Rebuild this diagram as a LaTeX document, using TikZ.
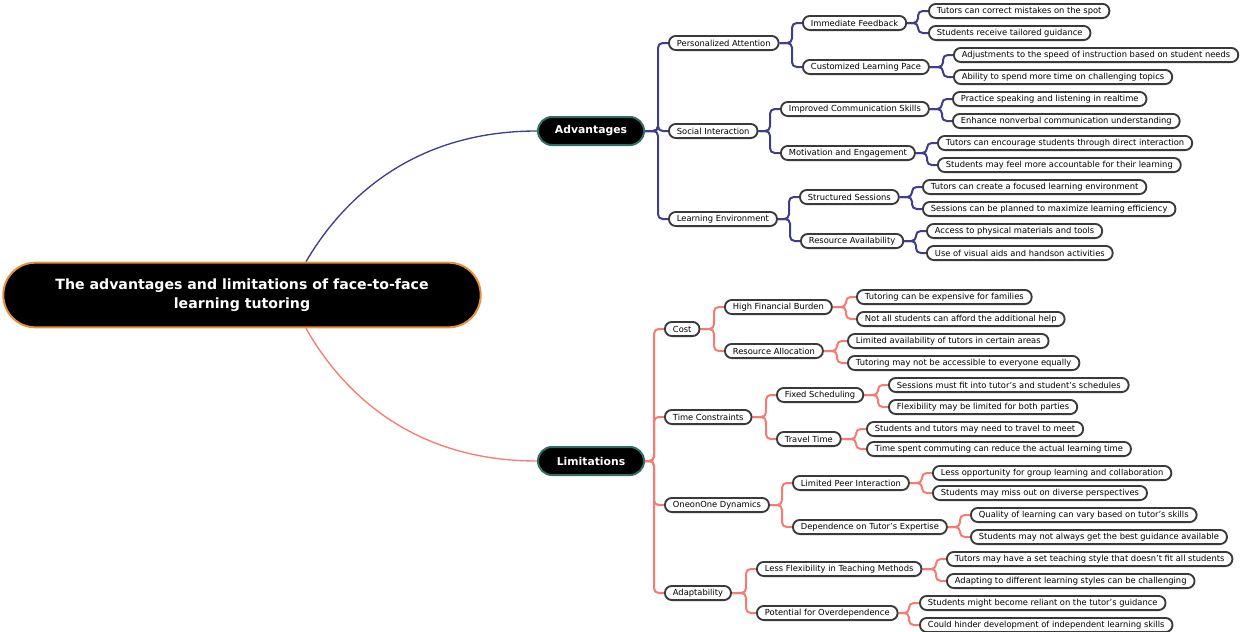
\documentclass[tikz,border=0pt]{standalone}
\usepackage{fontspec}
\setmainfont{DejaVu Sans}
\usetikzlibrary{positioning,backgrounds,calc}
\definecolor{advblue}{RGB}{62,62,140}
\definecolor{limred}{RGB}{247,122,115}
\definecolor{rootorange}{RGB}{232,145,58}
\definecolor{catteal}{RGB}{46,110,98}
\definecolor{leafgray}{RGB}{58,58,58}
\tikzset{
  leaf/.style={draw=leafgray,fill=white,line width=1.4pt,rounded corners=5.2pt,anchor=west,
    minimum height=10.6pt,inner xsep=6pt,inner ysep=0pt,font=\fontsize{6.25}{7}\selectfont},
  catnode/.style={draw=catteal,fill=black,text=white,line width=1.5pt,rounded corners=10.5pt,
    anchor=west,minimum width=79.5pt,minimum height=21pt,font=\bfseries\fontsize{8.1}{10}\selectfont},
  rootnode/.style={draw=rootorange,fill=black,text=white,line width=1.5pt,rounded corners=24pt,
    minimum width=358pt,minimum height=48.5pt,align=center,font=\bfseries\fontsize{10.6}{13.9}\selectfont},
  advline/.style={draw=advblue,line width=1.5pt,rounded corners=3.5pt},
  limline/.style={draw=limred,line width=1.5pt,rounded corners=3.5pt}
}
\begin{document}
\begin{tikzpicture}[x=0.75pt,y=-0.75pt]
  \useasboundingbox (0,0) rectangle (1240,632);
  \node[rootnode] (root) at (242,295) {The advantages and limitations of face-to-face\\learning tutoring};
  \node[catnode] (adv) at (537,131) {Advantages};
  \node[catnode] (lim) at (537,461) {Limitations};

  \node[leaf] (pers) at (668,43) {Personalized Attention};
  \node[leaf] (social) at (668,131) {Social Interaction};
  \node[leaf] (learnenv) at (668,219) {Learning Environment};
  \node[leaf] (immfb) at (802,23) {Immediate Feedback};
  \node[leaf] (custpace) at (802,67) {Customized Learning Pace};
  \node[leaf] (improvcomm) at (780,109) {Improved Communication Skills};
  \node[leaf] (motiv) at (780,153) {Motivation and Engagement};
  \node[leaf] (structs) at (799,197) {Structured Sessions};
  \node[leaf] (resavail) at (800,241) {Resource Availability};
  \node[leaf] (fb1) at (928,11) {Tutors can correct mistakes on the spot};
  \node[leaf] (fb2) at (928,33) {Students receive tailored guidance};
  \node[leaf] (pace1) at (953,55) {Adjustments to the speed of instruction based on student needs};
  \node[leaf] (pace2) at (953,77) {Ability to spend more time on challenging topics};
  \node[leaf] (comm1) at (952,99) {Practice speaking and listening in realtime};
  \node[leaf] (comm2) at (952,121) {Enhance nonverbal communication understanding};
  \node[leaf] (mot1) at (937,143) {Tutors can encourage students through direct interaction};
  \node[leaf] (mot2) at (937,165) {Students may feel more accountable for their learning};
  \node[leaf] (ses1) at (922,187) {Tutors can create a focused learning environment};
  \node[leaf] (ses2) at (922,209) {Sessions can be planned to maximize learning efficiency};
  \node[leaf] (res1) at (926,231) {Access to physical materials and tools};
  \node[leaf] (res2) at (926,253) {Use of visual aids and handson activities};

  \node[leaf] (cost) at (664,329) {Cost};
  \node[leaf] (timec) at (664,417) {Time Constraints};
  \node[leaf] (oneone) at (664,505) {OneonOne Dynamics};
  \node[leaf] (adapt) at (664,593) {Adaptability};
  \node[leaf] (burden) at (724,307) {High Financial Burden};
  \node[leaf] (alloc) at (724,351) {Resource Allocation};
  \node[leaf] (sched) at (776,395) {Fixed Scheduling};
  \node[leaf] (travel) at (776,439) {Travel Time};
  \node[leaf] (peer) at (792,483) {Limited Peer Interaction};
  \node[leaf] (expert) at (792,527) {Dependence on Tutor's Expertise};
  \node[leaf] (flexi) at (756,569) {Less Flexibility in Teaching Methods};
  \node[leaf] (overdep) at (756,613) {Potential for Overdependence};
  \node[leaf] (bur1) at (856,297) {Tutoring can be expensive for families};
  \node[leaf] (bur2) at (856,319) {Not all students can afford the additional help};
  \node[leaf] (all1) at (847,341) {Limited availability of tutors in certain areas};
  \node[leaf] (all2) at (847,363) {Tutoring may not be accessible to everyone equally};
  \node[leaf] (sch1) at (888,385) {Sessions must fit into tutor's and student's schedules};
  \node[leaf] (sch2) at (888,407) {Flexibility may be limited for both parties};
  \node[leaf] (trv1) at (866,429) {Students and tutors may need to travel to meet};
  \node[leaf] (trv2) at (866,449) {Time spent commuting can reduce the actual learning time};
  \node[leaf] (peer1) at (932,473) {Less opportunity for group learning and collaboration};
  \node[leaf] (peer2) at (932,493) {Students may miss out on diverse perspectives};
  \node[leaf] (exp1) at (970,515) {Quality of learning can vary based on tutor's skills};
  \node[leaf] (exp2) at (970,537) {Students may not always get the best guidance available};
  \node[leaf] (flx1) at (946,559) {Tutors may have a set teaching style that doesn't fit all students};
  \node[leaf] (flx2) at (946,581) {Adapting to different learning styles can be challenging};
  \node[leaf] (ovd1) at (919,603) {Students might become reliant on the tutor's guidance};
  \node[leaf] (ovd2) at (919,625) {Could hinder development of independent learning skills};

  \begin{scope}[on background layer]
    \draw[advline,line width=1pt] ($(root.north)+(64,0)$) .. controls (341,202) and (410,131) .. (adv.west);
    \draw[limline,line width=1pt] ($(root.south)+(64,0)$) .. controls (341,390) and (410,461) .. (lim.west);
    \foreach \p/\c in {adv/pers,adv/social,adv/learnenv,pers/immfb,pers/custpace,
        social/improvcomm,social/motiv,learnenv/structs,learnenv/resavail,
        immfb/fb1,immfb/fb2,custpace/pace1,custpace/pace2,improvcomm/comm1,improvcomm/comm2,
        motiv/mot1,motiv/mot2,structs/ses1,structs/ses2,resavail/res1,resavail/res2}
      \draw[advline] (\p.east) -| ([xshift=-7.5pt]\c.west) -- (\c.west);
    \foreach \p/\c in {lim/cost,lim/timec,lim/oneone,lim/adapt,cost/burden,cost/alloc,
        timec/sched,timec/travel,oneone/peer,oneone/expert,adapt/flexi,adapt/overdep,
        burden/bur1,burden/bur2,alloc/all1,alloc/all2,sched/sch1,sched/sch2,travel/trv1,travel/trv2,
        peer/peer1,peer/peer2,expert/exp1,expert/exp2,flexi/flx1,flexi/flx2,overdep/ovd1,overdep/ovd2}
      \draw[limline] (\p.east) -| ([xshift=-7.5pt]\c.west) -- (\c.west);
  \end{scope}
\end{tikzpicture}
\end{document}
